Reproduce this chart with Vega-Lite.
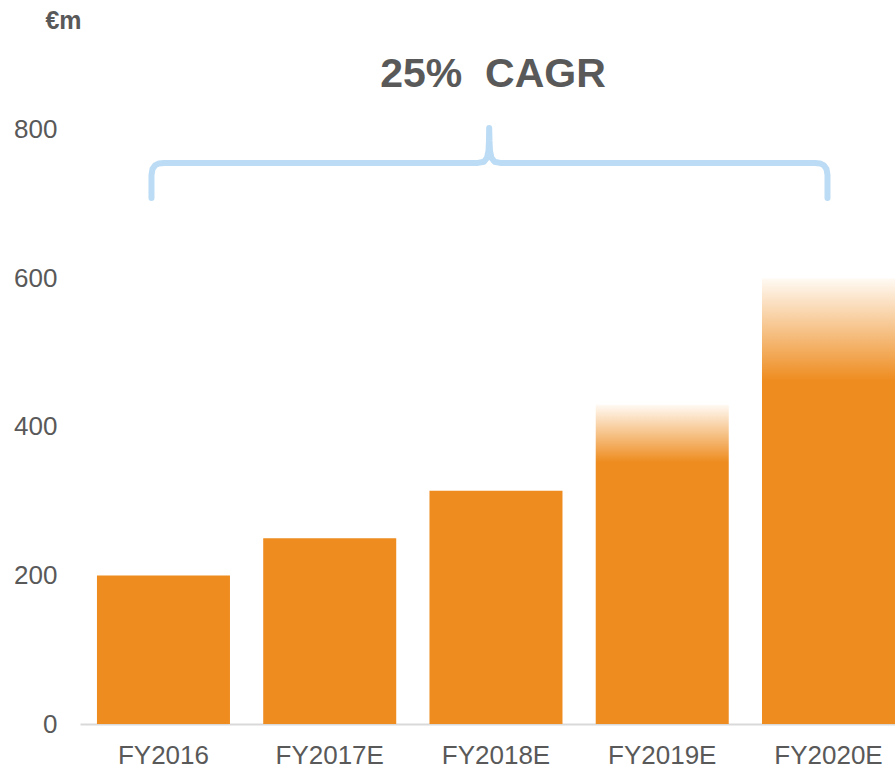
{
  "$schema": "https://vega.github.io/schema/vega-lite/v6.json",
  "width": 815,
  "height": 724,
  "autosize": "none",
  "padding": {"left": 80, "top": 0, "right": 0, "bottom": 44},
  "background": "white",
  "config": {"font": "Liberation Sans", "view": {"stroke": null}},
  "datasets": {
    "revenue": [
      {"year": "FY2016", "value": 200},
      {"year": "FY2017E", "value": 250},
      {"year": "FY2018E", "value": 314},
      {"year": "FY2019E", "value": 430},
      {"year": "FY2020E", "value": 600}
    ],
    "brace": [
      {"i": 0, "x": 0.430, "y": 708.4},
      {"i": 1, "x": 0.430, "y": 739.4},
      {"i": 2, "x": 0.436, "y": 747.5},
      {"i": 3, "x": 0.451, "y": 752.2},
      {"i": 4, "x": 0.475, "y": 754.9},
      {"i": 5, "x": 0.505, "y": 755.6},
      {"i": 6, "x": 2.394, "y": 755.6},
      {"i": 7, "x": 2.430, "y": 757.2},
      {"i": 8, "x": 2.448, "y": 762.3},
      {"i": 9, "x": 2.457, "y": 771.7},
      {"i": 10, "x": 2.460, "y": 785.2},
      {"i": 11, "x": 2.461, "y": 802.7},
      {"i": 12, "x": 2.463, "y": 785.2},
      {"i": 13, "x": 2.466, "y": 771.7},
      {"i": 14, "x": 2.475, "y": 762.3},
      {"i": 15, "x": 2.493, "y": 757.2},
      {"i": 16, "x": 2.526, "y": 755.6},
      {"i": 17, "x": 4.421, "y": 755.6},
      {"i": 18, "x": 4.451, "y": 754.9},
      {"i": 19, "x": 4.475, "y": 752.2},
      {"i": 20, "x": 4.490, "y": 747.5},
      {"i": 21, "x": 4.496, "y": 739.4},
      {"i": 22, "x": 4.496, "y": 708.4}
    ],
    "annotation": [
      {"x": 2.484, "y": 874, "label": "25%\u00a0\u00a0CAGR"}
    ]
  },
  "layer": [
    {
      "data": {"name": "revenue"},
      "mark": {"type": "bar"},
      "encoding": {
        "x": {
          "field": "year",
          "type": "nominal",
          "sort": null,
          "scale": {"domain": ["FY2016", "FY2017E", "FY2018E", "FY2019E", "FY2020E"], "paddingInner": 0.2, "paddingOuter": 0.051, "align": 1},
          "axis": {
            "title": null,
            "labelAngle": 0,
            "labelFontSize": 26,
            "labelColor": "#595959",
            "labelPadding": 18,
            "ticks": false,
            "tickSize": 0,
            "domainColor": "#d9d9d9",
            "domainWidth": 2
          }
        },
        "y": {
          "field": "value",
          "type": "quantitative",
          "scale": {"domain": [0, 975], "nice": false},
          "axis": {
            "values": [0, 200, 400, 600, 800],
            "grid": false,
            "domain": false,
            "ticks": false,
            "tickSize": 0,
            "labelFontSize": 26,
            "labelColor": "#595959",
            "labelPadding": 23,
            "title": "€m",
            "titleAngle": 0,
            "titleFontSize": 25,
            "titleFontWeight": "bold",
            "titleColor": "#595959",
            "titleAlign": "center",
            "titleBaseline": "middle",
            "titleX": -17,
            "titleY": 20
          }
        },
        "color": {
          "condition": [
            {
              "test": "datum.year === 'FY2019E'",
              "value": {
                "gradient": "linear", "x1": 0, "y1": 1, "x2": 0, "y2": 0,
                "stops": [
                  {"offset": 0, "color": "#ee8c1f"},
                  {"offset": 0.82, "color": "#ee8c1f"},
                  {"offset": 1, "color": "#fffaf4"}
                ]
              }
            },
            {
              "test": "datum.year === 'FY2020E'",
              "value": {
                "gradient": "linear", "x1": 0, "y1": 1, "x2": 0, "y2": 0,
                "stops": [
                  {"offset": 0, "color": "#ee8c1f"},
                  {"offset": 0.77, "color": "#ee8c1f"},
                  {"offset": 1, "color": "#fffaf4"}
                ]
              }
            }
          ],
          "value": "#ee8c1f"
        }
      }
    },
    {
      "layer": [
        {
          "data": {"name": "brace"},
          "mark": {"type": "line", "color": "#bcdcf5", "strokeWidth": 6, "strokeCap": "round", "strokeJoin": "round"},
          "encoding": {
            "x": {"field": "x", "type": "quantitative", "scale": {"domain": [0, 4.902], "nice": false, "zero": false}, "axis": null},
            "y": {"field": "y", "type": "quantitative", "scale": {"domain": [0, 975], "nice": false}, "axis": null},
            "order": {"field": "i", "type": "quantitative"}
          }
        },
        {
          "data": {"name": "annotation"},
          "mark": {"type": "text", "fontSize": 41, "fontWeight": "bold", "color": "#595959", "align": "center", "baseline": "middle"},
          "encoding": {
            "x": {"field": "x", "type": "quantitative", "scale": {"domain": [0, 4.902], "nice": false, "zero": false}, "axis": null},
            "y": {"field": "y", "type": "quantitative", "scale": {"domain": [0, 975], "nice": false}, "axis": null},
            "text": {"field": "label", "type": "nominal"}
          }
        }
      ],
      "resolve": {"axis": {"y": "independent"}}
    }
  ],
  "resolve": {"scale": {"x": "independent"}, "axis": {"x": "independent", "y": "independent"}}
}
